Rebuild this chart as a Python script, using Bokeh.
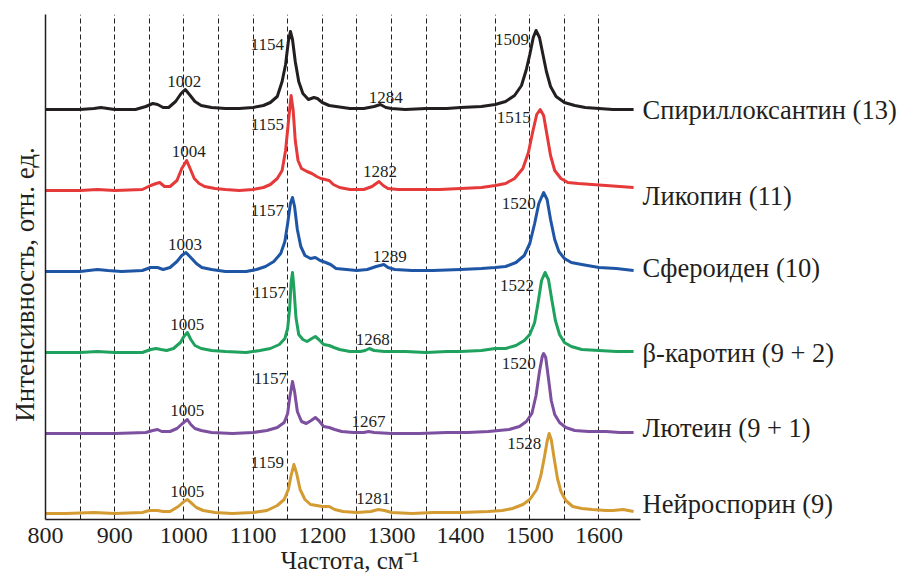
import numpy as np
from bokeh.plotting import figure
from bokeh.models import Range1d, FixedTicker, ColumnDataSource
from bokeh.core.properties import value
from bokeh.embed import file_html
from bokeh.resources import INLINE

# ---------------- data ----------------
names = ["Спириллоксантин (13)", "Ликопин (11)", "Сфероиден (10)",
         "β-каротин (9 + 2)", "Лютеин (9 + 1)", "Нейроспорин (9)"]
colors = ["#231f20", "#e5393a", "#1f55a5", "#1ea25d", "#7d4f9f", "#d49b32"]
offsets = [410, 329, 248, 167, 86, 6]

spiril_x = [800, 850, 870, 880, 890, 900, 930, 945, 955, 962,
            970, 978, 988, 996, 1002, 1008, 1016, 1025, 1040, 1060,
            1080, 1100, 1115, 1125, 1135, 1142, 1147, 1151, 1154, 1157,
            1161, 1166, 1172, 1180, 1188, 1193, 1200, 1210, 1220, 1240,
            1260, 1275, 1284, 1292, 1300, 1320, 1350, 1380, 1400, 1430,
            1450, 1465, 1478, 1488, 1495, 1500, 1505, 1509, 1514, 1519,
            1524, 1530, 1538, 1550, 1565, 1580, 1600, 1620, 1650]
spiril_y = [0, 0, 1, 2, 1, 0, 0, 3, 6, 5,
            2, 2, 8, 16, 20, 15, 8, 4, 2, 1,
            1, 2, 4, 7, 13, 28, 45, 68, 78, 70,
            48, 28, 16, 10, 12, 11, 7, 4, 3, 1,
            1, 3, 5, 2, 1, 0, 1, 1, 2, 3,
            5, 8, 14, 24, 40, 55, 72, 79, 72, 55,
            38, 23, 13, 7, 4, 2, 1, 0, 0]

lyco_x = [800, 850, 875, 900, 940, 952, 960, 965, 972, 980,
          990, 997, 1004, 1009, 1015, 1022, 1030, 1045, 1060, 1080,
          1100, 1115, 1125, 1135, 1142, 1147, 1151, 1155, 1158, 1161,
          1165, 1170, 1178, 1185, 1192, 1198, 1204, 1210, 1216, 1225,
          1240, 1260, 1272, 1282, 1288, 1295, 1310, 1340, 1370, 1400,
          1430, 1450, 1465, 1478, 1490, 1498, 1504, 1510, 1515, 1520,
          1525, 1530, 1536, 1545, 1555, 1570, 1590, 1610, 1630, 1650]
lyco_y = [0, 0, 1, 0, 1, 5, 7, 8, 4, 4,
          10, 22, 30, 22, 12, 7, 4, 2, 1, 0,
          1, 3, 6, 12, 20, 40, 68, 95, 80, 50,
          30, 22, 19, 17, 14, 12, 11, 10, 6, 3,
          1, 1, 4, 9, 5, 2, 1, 1, 1, 2,
          3, 5, 7, 12, 22, 38, 58, 76, 81, 75,
          55, 35, 20, 12, 8, 7, 6, 5, 4, 3]

spher_x = [800, 850, 875, 890, 910, 940, 952, 962, 970, 980,
           990, 997, 1003, 1010, 1018, 1026, 1040, 1060, 1090, 1105,
           1118, 1130, 1140, 1146, 1150, 1154, 1157, 1160, 1164, 1169,
           1175, 1183, 1190, 1197, 1205, 1212, 1220, 1235, 1250, 1265,
           1278, 1289, 1295, 1305, 1330, 1360, 1400, 1430, 1450, 1465,
           1480, 1492, 1500, 1507, 1513, 1520, 1525, 1530, 1536, 1542,
           1550, 1560, 1575, 1600, 1625, 1650]
spher_y = [0, 0, 2, 1, 0, 1, 4, 4, 2, 4,
           10, 16, 19, 14, 8, 4, 2, 0, 0, 2,
           5, 10, 18, 30, 48, 68, 74, 65, 42, 25,
           16, 13, 14, 11, 9, 7, 3, 2, 1, 2,
           5, 7, 4, 2, 1, 1, 2, 3, 4, 5,
           9, 16, 28, 48, 68, 79, 72, 52, 32, 20,
           13, 9, 7, 4, 3, 1]

beta_x = [800, 850, 875, 900, 940, 952, 960, 967, 975, 985,
          995, 1000, 1005, 1010, 1016, 1025, 1040, 1060, 1090, 1110,
          1125, 1138, 1146, 1150, 1153, 1155, 1157, 1159, 1162, 1166,
          1172, 1178, 1185, 1190, 1195, 1202, 1210, 1217, 1225, 1240,
          1255, 1262, 1268, 1275, 1290, 1320, 1350, 1380, 1400, 1430,
          1450, 1465, 1480, 1492, 1500, 1507, 1512, 1517, 1522, 1527,
          1532, 1537, 1543, 1550, 1560, 1575, 1600, 1625, 1650]
beta_y = [0, 0, 1, 0, 0, 3, 4, 3, 2, 4,
          10, 16, 20, 13, 7, 4, 2, 1, 0, 2,
          4, 8, 14, 24, 45, 70, 80, 65, 35, 18,
          13, 11, 14, 16, 13, 8, 7, 5, 3, 1,
          1, 2, 4, 2, 1, 1, 0, 1, 1, 2,
          4, 4, 7, 12, 18, 30, 50, 72, 80, 73,
          52, 32, 18, 10, 6, 3, 2, 1, 1]

lutein_x = [800, 850, 900, 945, 955, 962, 968, 980, 990, 998,
            1005, 1010, 1016, 1025, 1040, 1070, 1100, 1120, 1135, 1145,
            1150, 1153, 1157, 1160, 1164, 1170, 1177, 1184, 1190, 1195,
            1202, 1210, 1218, 1228, 1245, 1260, 1267, 1275, 1300, 1340,
            1380, 1410, 1440, 1455, 1470, 1485, 1495, 1503, 1509, 1514,
            1518, 1520, 1523, 1527, 1531, 1536, 1543, 1552, 1565, 1585,
            1610, 1630, 1650]
lutein_y = [0, 0, 0, 1, 3, 4, 2, 2, 5, 10,
            14, 9, 5, 3, 1, 0, 1, 3, 6, 11,
            20, 36, 52, 42, 22, 12, 10, 13, 16, 13,
            7, 6, 4, 2, 1, 1, 2, 1, 0, 0,
            1, 1, 2, 3, 4, 7, 12, 20, 38, 62,
            77, 80, 76, 55, 33, 19, 11, 6, 3, 2,
            2, 1, 1]

neuro_x = [800, 830, 870, 900, 940, 950, 962, 970, 980, 992,
           1000, 1005, 1010, 1018, 1028, 1045, 1070, 1100, 1120, 1135,
           1145, 1151, 1155, 1159, 1163, 1168, 1175, 1183, 1192, 1200,
           1210, 1218, 1230, 1250, 1270, 1281, 1290, 1300, 1330, 1360,
           1400, 1440, 1460, 1475, 1490, 1500, 1510, 1516, 1521, 1525,
           1528, 1531, 1535, 1540, 1545, 1552, 1562, 1575, 1590, 1610,
           1620, 1635, 1650]
neuro_y = [0, 0, 1, 0, 1, 3, 3, 2, 2, 7,
           12, 14, 11, 6, 3, 1, 0, 1, 3, 8,
           14, 24, 38, 49, 40, 24, 14, 9, 8, 7,
           7, 4, 2, 1, 2, 4, 3, 1, 0, 1,
           1, 2, 3, 5, 9, 14, 24, 38, 56, 72,
           80, 74, 56, 35, 22, 13, 7, 5, 4, 3,
           3, 4, 2]

series_x = [spiril_x, lyco_x, spher_x, beta_x, lutein_x, neuro_x]
series_y = [spiril_y, lyco_y, spher_y, beta_y, lutein_y, neuro_y]

# labelled peaks (cm^-1) per spectrum
peaks = [[1002, 1154, 1284, 1509],
         [1004, 1155, 1282, 1515],
         [1003, 1157, 1289, 1520],
         [1005, 1157, 1268, 1522],
         [1005, 1157, 1267, 1520],
         [1005, 1159, 1281, 1528]]
major = [False, True, False, True]

xticks = [800, 900, 1000, 1100, 1200, 1300, 1400, 1500, 1600]
grid_ticks = [850, 900, 950, 1000, 1050, 1100, 1150, 1200, 1250, 1300,
              1350, 1400, 1450, 1500, 1550, 1600]

x_label = "Частота, см⁻¹"
y_label = "Интенсивность, отн. ед."

# ---------------- layout (text anchors / screen px offsets) ----------------
label_dx = [[-1, -6.5, 5.5, -7], [2, -7, 1, -9.5], [-1, -8.5, 6, -8],
            [0, -6.5, 3.5, -11], [0, -5.5, 0, -8], [0, -10, -5, -8]]
label_dy = [[-8, 13, -7, 9], [-9, 29, -10, 8], [-8, 13, -8, 11],
            [-8, 20, -9, 13], [-9, -3, -10, 10], [-8, -2, -11, 10]]
name_dy = [0, 5, -4, 0, -6, -10]
NAME_X = 1663
XTITLE_POS = (1240, -41)
YTITLE_POS = (771, 235)

FONT = "Liberation Serif"
INK = "#231f20"

p = figure(width=907, height=574, x_range=Range1d(800, 1660), y_range=Range1d(0, 505),
           output_backend="svg", toolbar_location=None,
           min_border_left=45, min_border_right=267, min_border_top=14, min_border_bottom=55)
p.outline_line_color = None
p.background_fill_color = "white"
p.border_fill_color = "white"

# x axis
xa = p.xaxis[0]
xa.ticker = FixedTicker(ticks=xticks)
xa.major_tick_line_color = None
xa.minor_tick_line_color = None
xa.major_tick_out = 0
xa.minor_tick_out = 0
xa.axis_line_color = INK
xa.axis_line_width = 1.5
xa.major_label_text_font = FONT
xa.major_label_text_font_size = "24px"
xa.major_label_text_color = INK
xa.major_label_standoff = 8

# y axis (line only)
ya = p.yaxis[0]
ya.ticker = FixedTicker(ticks=[])
ya.major_tick_line_color = None
ya.minor_tick_line_color = None
ya.major_tick_out = 0
ya.minor_tick_out = 0
ya.major_label_text_font_size = "0px"
ya.axis_line_color = INK
ya.axis_line_width = 1.5

# grid
p.xgrid.ticker = FixedTicker(ticks=grid_ticks)
p.xgrid.grid_line_color = INK
p.xgrid.grid_line_dash = "5 3"
p.xgrid.grid_line_width = 1
p.ygrid.visible = False

maj = dict(x=[], y=[], t=[], dx=[], dy=[])
mnr = dict(x=[], y=[], t=[], dx=[], dy=[])
for i in range(len(names)):
    xs = np.array(series_x[i], dtype=float)
    ys = np.array(series_y[i], dtype=float) + offsets[i]
    p.line(xs, ys, line_color=colors[i], line_width=3, line_join="round")
    for k, pk in enumerate(peaks[i]):
        d = maj if major[k] else mnr
        d["x"].append(pk)
        d["y"].append(float(np.interp(pk, xs, ys)))
        d["t"].append(str(pk))
        d["dx"].append(label_dx[i][k])
        d["dy"].append(label_dy[i][k])

p.text(x="x", y="y", text="t", x_offset="dx", y_offset="dy", source=ColumnDataSource(maj),
       text_font=value(FONT), text_font_size="17px", text_color=INK,
       text_align="right", text_baseline="middle", level="overlay")
p.text(x="x", y="y", text="t", x_offset="dx", y_offset="dy", source=ColumnDataSource(mnr),
       text_font=value(FONT), text_font_size="17px", text_color=INK,
       text_align="center", text_baseline="middle", level="overlay")

p.text(x=[NAME_X] * len(names), y=offsets, text=names, y_offset=name_dy,
       text_font=value(FONT), text_font_size="26.5px", text_color=INK,
       text_align="left", text_baseline="middle", level="overlay")

# axis titles
p.text(x=[XTITLE_POS[0]], y=[XTITLE_POS[1]], text=[x_label],
       text_font=value(FONT), text_font_size="25px", text_color=INK,
       text_align="center", text_baseline="middle", level="overlay")
p.text(x=[YTITLE_POS[0]], y=[YTITLE_POS[1]], text=[y_label], angle=np.pi / 2,
       text_font=value(FONT), text_font_size="27px", text_color=INK,
       text_align="center", text_baseline="middle", level="overlay")

open("out.html", "w").write(file_html(p, INLINE))
